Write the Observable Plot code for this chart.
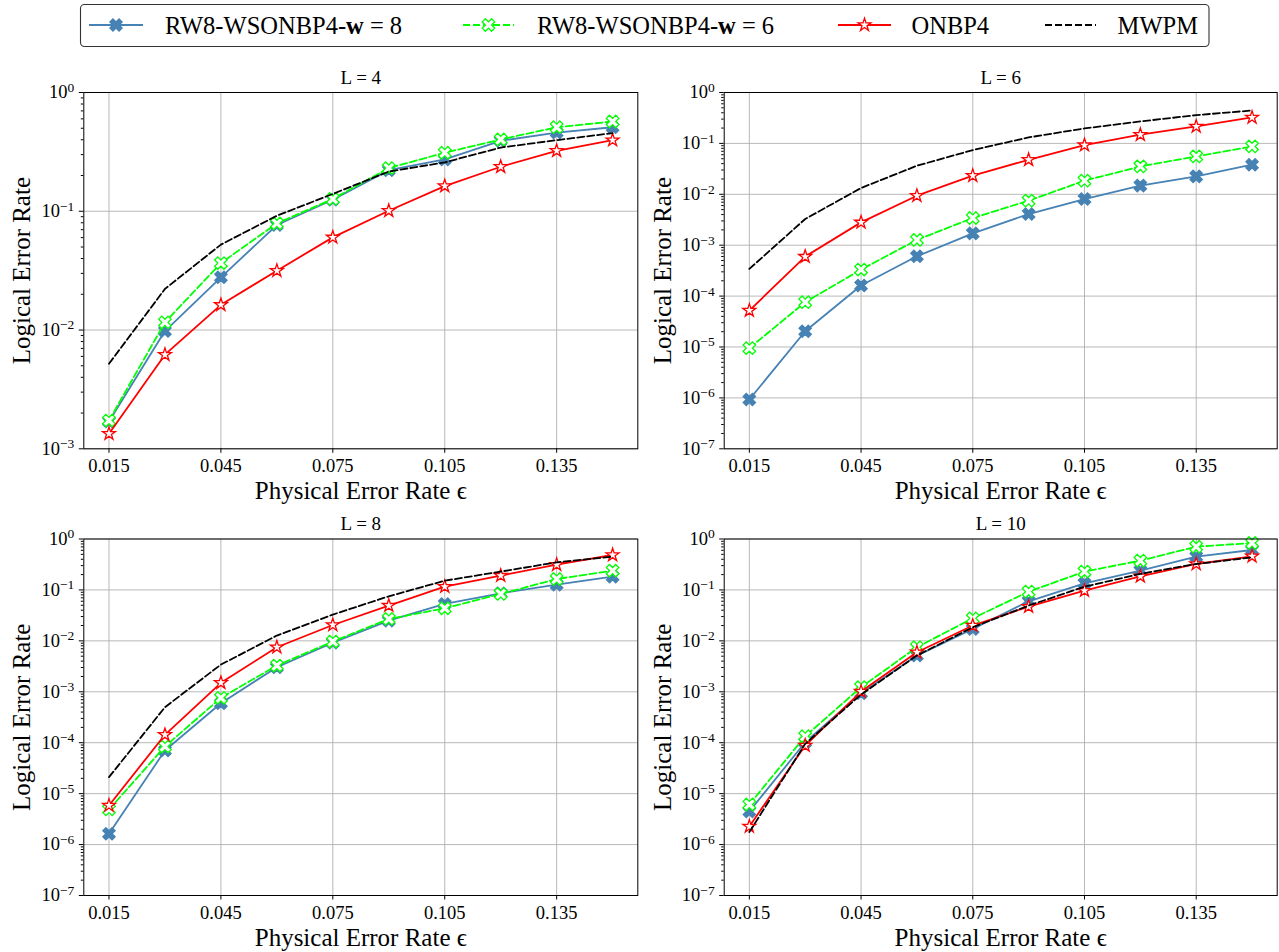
<!DOCTYPE html>
<html><head><meta charset="utf-8">
<script src="https://cdn.jsdelivr.net/npm/d3@7"></script>
<script src="https://cdn.jsdelivr.net/npm/@observablehq/plot@0.6"></script>
<style>
body{margin:0;background:#fff;}
#root{position:relative;width:1279px;height:952px;overflow:hidden;font-family:"Liberation Serif",serif;}
.panel{position:absolute;}
</style></head><body><div id="root"></div>
<script>
const eps = [0.015, 0.03, 0.045, 0.06, 0.075, 0.09, 0.105, 0.12, 0.135, 0.15];
const xTickValues = [0.015, 0.045, 0.075, 0.105, 0.135];
const seriesLabels = ["RW8-WSONBP4-", "RW8-WSONBP4-", "ONBP4", "MWPM"];
const seriesBoldW = ["w", "w", "", ""];
const seriesSuffix = [" = 8", " = 6", "", ""];
const panelTitles = ["L = 4", "L = 6", "L = 8", "L = 10"];
const yMinExponents = [-3, -7, -7, -7];
const xLabel = "Physical Error Rate ϵ";
const yLabel = "Logical Error Rate";

// L = 4
const L4_w8   = [1.7e-3, 9.8e-3, 0.0278, 0.0766, 0.125, 0.222, 0.273, 0.392, 0.46, 0.51];
const L4_w6   = [1.73e-3, 0.0116, 0.0366, 0.079, 0.127, 0.231, 0.311, 0.402, 0.51, 0.57];
const L4_onbp = [1.34e-3, 6.2e-3, 0.0163, 0.0316, 0.0603, 0.101, 0.163, 0.237, 0.323, 0.397];
const L4_mwpm = [5.2e-3, 0.0222, 0.0524, 0.0917, 0.140, 0.216, 0.258, 0.344, 0.397, 0.455];
// L = 6
const L6_w8   = [9.3e-7, 2.04e-5, 1.61e-4, 6.05e-4, 1.71e-3, 4.1e-3, 8.07e-3, 0.0148, 0.0225, 0.0381];
const L6_w6   = [9.5e-6, 7.58e-5, 3.32e-4, 1.27e-3, 3.42e-3, 7.49e-3, 0.0185, 0.0353, 0.0555, 0.0872];
const L6_onbp = [5.2e-5, 5.97e-4, 2.81e-3, 9.39e-3, 0.0232, 0.0477, 0.0926, 0.148, 0.215, 0.323];
const L6_mwpm = [3.42e-4, 3.27e-3, 0.0133, 0.0364, 0.0739, 0.131, 0.197, 0.27, 0.359, 0.443];
// L = 8
const L8_w8   = [1.63e-6, 7.03e-5, 5.97e-4, 3.03e-3, 9.25e-3, 0.025, 0.053, 0.0859, 0.127, 0.182];
const L8_w6   = [4.89e-6, 8.42e-5, 7.6e-4, 3.27e-3, 9.7e-3, 0.0269, 0.0436, 0.0833, 0.164, 0.239];
const L8_onbp = [5.86e-6, 1.43e-4, 1.5e-3, 7.49e-3, 0.0205, 0.0492, 0.116, 0.191, 0.313, 0.485];
const L8_mwpm = [2.11e-5, 4.98e-4, 3.42e-3, 0.0127, 0.0328, 0.075, 0.152, 0.229, 0.348, 0.45];
// L = 10
const L10_w8   = [4.47e-6, 1.02e-4, 9.37e-4, 5.14e-3, 0.0171, 0.0598, 0.135, 0.239, 0.45, 0.608];
const L10_w6   = [6.12e-6, 1.34e-4, 1.23e-3, 7.49e-3, 0.0277, 0.0926, 0.229, 0.376, 0.707, 0.835];
const L10_onbp = [2.27e-6, 8.81e-5, 1.01e-3, 5.97e-3, 0.02, 0.047, 0.0968, 0.185, 0.323, 0.457];
const L10_mwpm = [1.76e-6, 9.5e-5, 8.83e-4, 5.14e-3, 0.0185, 0.0492, 0.116, 0.206, 0.323, 0.436];

// custom marker shapes
const filledX = { draw(ctx, size) {
  const r = Math.sqrt(size / Math.PI), w = r / 3, c = Math.SQRT1_2;
  const pts = [[-w,-r],[w,-r],[w,-w],[r,-w],[r,w],[w,w],[w,r],[-w,r],[-w,w],[-r,w],[-r,-w],[-w,-w]];
  pts.forEach(([x, y], i) => { const X = (x - y) * c, Y = (x + y) * c; i ? ctx.lineTo(X, Y) : ctx.moveTo(X, Y); });
  ctx.closePath();
}};
const star5 = { draw(ctx, size) {
  const R = Math.sqrt(size / Math.PI), ri = R * 0.381966;
  for (let i = 0; i < 10; i++) {
    const a = -Math.PI / 2 + i * Math.PI / 5, rr = i % 2 ? ri : R;
    const X = rr * Math.cos(a), Y = rr * Math.sin(a);
    i ? ctx.lineTo(X, Y) : ctx.moveTo(X, Y);
  }
  ctx.closePath();
}};

const styles = [
  {stroke: "#4682B4", dash: null, symbol: filledX, fill: "#4682B4", r: 6.5},
  {stroke: "#00FF00", dash: "7,3", symbol: filledX, fill: "white", r: 6.6},
  {stroke: "#FF0000", dash: null, symbol: star5, fill: "white", r: 6.8},
  {stroke: "#000000", dash: "7,3", symbol: null}
];

const panels = [
  {series: [L4_w8, L4_w6, L4_onbp, L4_mwpm], left: 0, top: 60, width: 640, mL: 83.3, mR: 2.7, mT: 32, h: 356.3, mB: 58},
  {series: [L6_w8, L6_w6, L6_onbp, L6_mwpm], left: 640, top: 60, width: 639, mL: 83.7, mR: 2.3, mT: 32, h: 356.3, mB: 58},
  {series: [L8_w8, L8_w6, L8_onbp, L8_mwpm], left: 0, top: 505, width: 640, mL: 83.3, mR: 2.7, mT: 33.5, h: 356.5, mB: 56},
  {series: [L10_w8, L10_w6, L10_onbp, L10_mwpm], left: 640, top: 505, width: 639, mL: 83.7, mR: 2.3, mT: 33.5, h: 356.5, mB: 56}
];

const root = document.getElementById("root");
const NS = "http://www.w3.org/2000/svg";

panels.forEach((p, idx) => {
  const yMin = yMinExponents[idx];
  const decades = d3.range(yMin, 1).map(e => Math.pow(10, e));
  const minors = [];
  for (let e = yMin; e < 0; e++) for (let k = 2; k <= 9; k++) minors.push(k * Math.pow(10, e));
  const rows = [];
  p.series.forEach((arr, si) => arr.forEach((v, i) => rows.push({eps: eps[i], ler: v, s: si})));

  const marks = [
    Plot.gridX(xTickValues, {stroke: "#b0b0b0", strokeOpacity: 1, strokeWidth: 0.9}),
    Plot.gridY(decades, {stroke: "#b0b0b0", strokeOpacity: 1, strokeWidth: 0.9})
  ];
  styles.forEach((st, si) => {
    const d = rows.filter(r => r.s === si);
    marks.push(Plot.line(d, {x: "eps", y: "ler", stroke: st.stroke, strokeWidth: 1.8, ...(st.dash ? {strokeDasharray: st.dash} : {})}));
    if (st.symbol) marks.push(Plot.dot(d, {x: "eps", y: "ler", symbol: st.symbol, r: st.r, fill: st.fill, stroke: st.stroke, strokeWidth: 1.3}));
  });
  marks.push(
    Plot.frame({stroke: "black", strokeWidth: 1}),
    Plot.axisX(xTickValues, {tickSize: 4.5, tickPadding: 6, tickFormat: d3.format(".3f"), label: null, fontSize: 18.5}),
    Plot.axisY(decades, {tickSize: 4.5, tickPadding: 5, tickFormat: v => "10^" + Math.round(Math.log10(v)), label: null, fontSize: 18.5}),
    Plot.axisY(minors, {tickSize: 2.5, tickFormat: () => "", label: null}),
    Plot.text([panelTitles[idx]], {text: d => d, frameAnchor: "top", lineAnchor: "middle", textAnchor: "middle", dy: -15, fontSize: 19, ariaLabel: "ptitle"}),
    Plot.text([xLabel], {text: d => d, frameAnchor: "bottom", lineAnchor: "middle", textAnchor: "middle", dy: 42, fontSize: 25}),
    Plot.text([yLabel], {text: d => d, frameAnchor: "left", lineAnchor: "middle", textAnchor: "middle", dx: -61.5, rotate: -90, fontSize: 25})
  );

  const svg = Plot.plot({
    width: p.width,
    height: p.mT + p.h + p.mB,
    marginLeft: p.mL, marginRight: p.mR, marginTop: p.mT, marginBottom: p.mB,
    x: {type: "linear", domain: [0.00825, 0.15675]},
    y: {type: "log", domain: [Math.pow(10, yMin), 1]},
    style: {fontFamily: "'Liberation Serif', serif", fontSize: "18.5px", color: "black", background: "transparent", overflow: "visible"},
    marks
  });

  // superscript exponents on y tick labels
  svg.querySelectorAll('g[aria-label="y-axis tick label"] text').forEach(t => {
    const m = t.textContent.match(/^10\^(-?\d+)$/);
    if (!m) return;
    t.textContent = "10";
    const ts = document.createElementNS(NS, "tspan");
    ts.setAttribute("dy", "-6.5");
    ts.setAttribute("font-size", "13.5px");
    ts.textContent = m[1].replace("-", "\u2212");
    t.appendChild(ts);
  });
  // italic L in title
  svg.querySelectorAll('g[aria-label="ptitle"] text').forEach(t => {
    const s = t.textContent;
    t.textContent = "";
    const ts = document.createElementNS(NS, "tspan");
    ts.setAttribute("font-style", "italic");
    ts.textContent = s.charAt(0);
    t.appendChild(ts);
    t.appendChild(document.createTextNode(s.slice(1)));
  });

  const div = document.createElement("div");
  div.className = "panel";
  div.style.left = p.left + "px";
  div.style.top = p.top + "px";
  div.appendChild(svg);
  root.appendChild(div);
});

// legend
const lg = d3.select(root).append("svg").attr("width", 1279).attr("height", 52)
  .style("position", "absolute").style("left", "0px").style("top", "0px");
lg.append("rect").attr("x", 80.5).attr("y", 4.5).attr("width", 1128.5).attr("height", 42)
  .attr("rx", 4).attr("fill", "white").attr("stroke", "#333").attr("stroke-width", 1.1);
const handleX = [[89, 143], [463, 514], [838, 891], [1045, 1096]];
const textX = [165, 537, 911.5, 1117.6];
styles.forEach((st, i) => {
  const [a, b] = handleX[i];
  const ln = lg.append("line").attr("x1", a).attr("x2", b).attr("y1", 25).attr("y2", 25)
    .attr("stroke", st.stroke).attr("stroke-width", 1.8);
  if (st.dash) ln.attr("stroke-dasharray", st.dash);
  if (st.symbol) {
    lg.append("path").attr("d", d3.symbol(st.symbol, Math.PI * st.r * st.r)())
      .attr("transform", `translate(${(a + b) / 2},25)`)
      .attr("fill", st.fill).attr("stroke", st.stroke).attr("stroke-width", 1.3);
  }
  const tx = lg.append("text").attr("x", textX[i]).attr("y", 25).attr("dy", "0.35em")
    .attr("font-family", "'Liberation Serif', serif").attr("font-size", 24.5).attr("fill", "black");
  tx.append("tspan").text(seriesLabels[i]);
  if (seriesBoldW[i]) tx.append("tspan").attr("font-weight", "bold").text(seriesBoldW[i]);
  if (seriesSuffix[i]) tx.append("tspan").text(seriesSuffix[i]);
});
</script>
</body></html>
